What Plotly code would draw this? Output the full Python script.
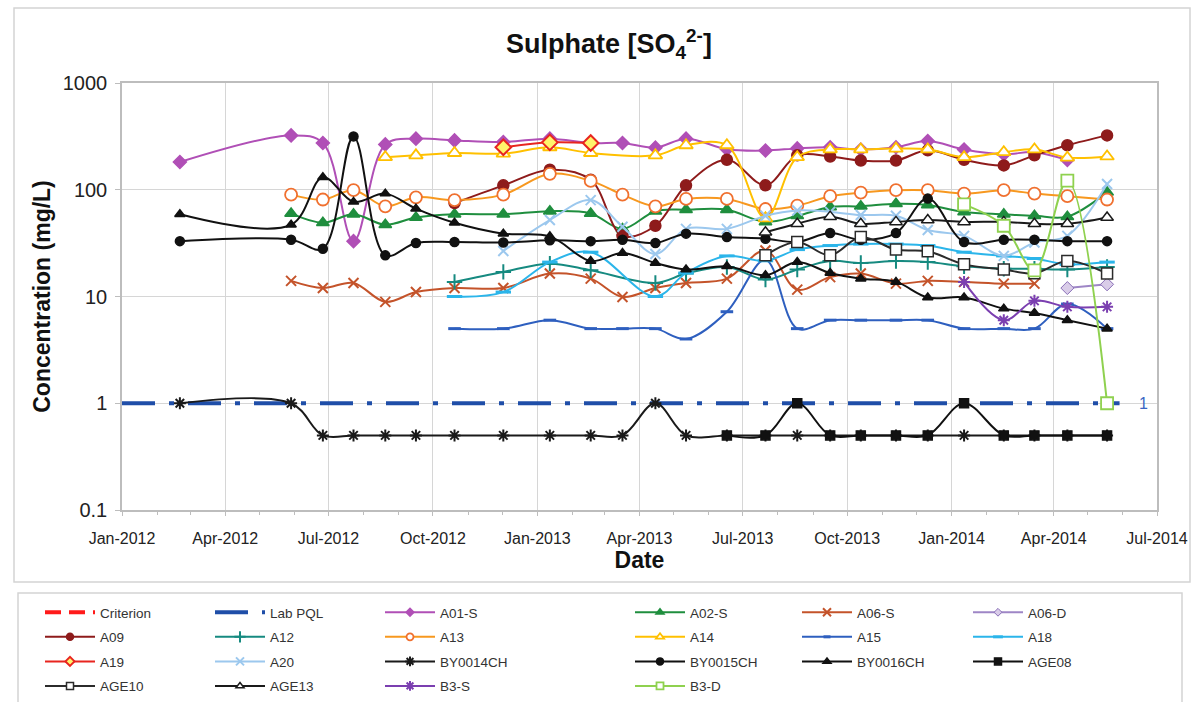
import math
import plotly.graph_objects as go

# ---- sampling dates (shared by all monitoring bores) ----
sample_dates = [
    "2012-02-21", "2012-05-29", "2012-06-26", "2012-07-23", "2012-08-20",
    "2012-09-16", "2012-10-20", "2012-12-02", "2013-01-12", "2013-02-17",
    "2013-03-17", "2013-04-15", "2013-05-12", "2013-06-17", "2013-07-21",
    "2013-08-18", "2013-09-16", "2013-10-13", "2013-11-13", "2013-12-11",
    "2014-01-12", "2014-02-16", "2014-03-15", "2014-04-13", "2014-05-18",
]
N = None

# ---- sulphate concentrations (mg/L), aligned with sample_dates ----
a01_s = [182, 323, 274, 33, 266, 301, 290, 280, 301, 274, 274, 248, 301, 240, 233, 244, 250, 238, 250, 286, 238, 215, 225, 190, N]
a02_s = [N, 60, 49, 59, 47, 55, 59, 59, 63, 60, 43, 63, 65, 65, 50, 57, 69, 70, 74, 72, 62, 59, 57, 56, 95]
a06_s = [N, 14, 12, 13.4, 8.9, 11, 12, 12, 16.4, 14.7, 9.9, 12, 13.4, 14.7, 27, 11.6, 15.2, 16.4, 13.2, 14, 13.7, 13.2, 13.2, N, N]
a06_d = [N] * 23 + [12, 13]
a09 = [N, N, N, N, N, N, 75, 110, 154, 124, 37, 46, 110, 191, 110, 210, 205, 188, 188, 234, 191, 169, 210, 261, 323]
a12 = [N, N, N, N, N, N, 13.7, 17, 20.3, 17.6, N, 13.4, 16.4, 18.9, 14.4, 17.9, 21.5, 20.6, 21.5, 21, 19.2, 18.2, 18.2, 17.9, 18.9]
a13 = [N, 90, 81, 99, 70, 85, 80, 90, 141, 121, 90, 70, 82, 82, 66, 71, 87, 94, 99, 99, 92, 99, 92, 87, 81]
a14 = [N, N, N, N, 202, 210, 221, 218, 250, 221, N, 210, 261, 261, 54, 202, 239, 239, 243, 239, 202, 225, 239, 200, 205]
a15 = [N, N, N, N, N, N, 5, 5, 6, 5, 5, 5, 4, 7.2, 22, 5, 6, 6, 6, 6, 5, 5, 5, 8.5, 5]
a18 = [N, N, N, N, N, N, 10, 11, 21, 26, N, 10, 16.6, 24, 21.6, 27.5, 30, 31, 31, 30, 26, 24, 22.7, 20, 21]
a19 = [N] * 7 + [250, 278, 274] + [N] * 15
a20 = [N] * 7 + [26.7, 52, 80, 45, 25, 43, 43, 57, 64, 62, 58, 57, 42, 37, 24, 32, 37, 113]
by0014ch = [1, 1, 0.5, 0.5, 0.5, 0.5, 0.5, 0.5, 0.5, 0.5, 0.5, 1, 0.5, 0.5, 0.5, 0.5, 0.5, 0.5, 0.5, 0.5, 0.5, 0.5, 0.5, 0.5, 0.5]
by0015ch = [33, 34, 28, 316, 24.3, 31.7, 32.4, 32, 33.6, 33, 34, 31.7, 38.8, 36, 34.8, 32.4, 39.3, 34, 39.3, 82.6, 32.4, 34, 34, 33, 33]
by0016ch = [59, 47, 131, 77, 92, 66.5, 49, 38.8, 36.6, 21.5, 25.5, 20.6, 17.9, 19.2, 15.8, 21, 16.6, 14.7, 13.7, 9.8, 9.8, 7.7, 7.0, 6.0, 5.0]
age08 = [N] * 13 + [0.5, 0.5, 1, 0.5, 0.5, 0.5, 0.5, 1, 0.5, 0.5, 0.5, 0.5]
age10 = [N] * 14 + [24.3, 32.4, 24.3, 36, 27.5, 26.5, 20, 17.9, 16.5, 21.5, 16.4]
age13 = [N] * 14 + [40, 48, 56, 48, 50, 52, 50, 50, 48, 48, 55]
b3_s = [N] * 20 + [13.7, 6.0, 9.1, 8.0, 8.0]
b3_d = [N] * 20 + [73, 46, 17.6, 122, 1.0]

# laboratory practical quantitation limit
pql_value = 1
pql_dates = ["2012-01-01", "2014-05-29"]
pql_label_date = "2014-06-19"

# axis settings
x_range = ["2012-01-01", "2014-07-01"]
y_ticks = [0.1, 1, 10, 100, 1000]
y_tick_text = ["0.1", "1", "10", "100", "1000"]

FONT = "Liberation Sans, Arial, sans-serif"

fig = go.Figure()


def add_series(name, values, color, symbol, size, legend,
               fill=None, line_w=2, mline_w=1.5, mline_color=None, legend_size=None):
    """Data trace plus a legend-only entry drawn with a smaller symbol."""
    def marker(sz):
        return dict(symbol=symbol, size=sz,
                    color=fill if fill is not None else color,
                    line=dict(color=mline_color or color, width=mline_w))
    line = dict(color=color, width=line_w, shape="spline", smoothing=1.0)
    fig.add_trace(go.Scatter(
        x=sample_dates, y=values, name=name, mode="lines+markers",
        connectgaps=True, line=line, marker=marker(size),
        legend=legend, legendgroup=name, showlegend=False,
    ))
    fig.add_trace(go.Scatter(
        x=[None], y=[None], name=name, mode="lines+markers",
        line=line, marker=marker(legend_size or max(5, round(size * 0.6))),
        legend=legend, legendgroup=name, showlegend=True,
    ))


# criterion (legend entry only)
fig.add_trace(go.Scatter(
    x=[None], y=[None], name="Criterion", mode="lines",
    line=dict(color="#FF1A1A", width=4, dash="16px,8px"),
    legend="legend", legendgroup="Criterion",
))
# lab PQL
fig.add_trace(go.Scatter(
    x=pql_dates, y=[pql_value] * len(pql_dates), name="Lab PQL", mode="lines",
    line=dict(color="#1F4EA8", width=4, dash="33px,14px,5px,14px"),
    legend="legend2", legendgroup="Lab PQL",
))

add_series("A01-S", a01_s, "#B04FB6", "diamond", 10, "legend3")
add_series("A02-S", a02_s, "#1F8E3E", "triangle-up", 11, "legend4")
add_series("A06-S", a06_s, "#C4532A", "x-thin-open", 10, "legend5", mline_w=2, legend_size=8)
add_series("A06-D", a06_d, "#9E86C6", "diamond", 10, "legend6", fill="#D9CCE8", mline_color="#8A70B8", mline_w=1)
add_series("A09", a09, "#8E1B1B", "circle", 11, "legend")
add_series("A12", a12, "#168A80", "cross-thin-open", 11, "legend2", mline_w=2, legend_size=8)
add_series("A13", a13, "#F7981F", "circle", 12, "legend3", fill="white", mline_color="#F0702F", mline_w=1.8)
add_series("A14", a14, "#FFC000", "triangle-up", 12, "legend4", fill="white", mline_w=1.8)
add_series("A15", a15, "#2E5FBF", "line-ew-open", 9, "legend5", mline_w=3)
add_series("A18", a18, "#2BB5EA", "line-ew-open", 11, "legend6", mline_w=3)
add_series("A19", a19, "#E8251F", "diamond", 12, "legend", fill="#FFF36B", mline_w=2)
add_series("A20", a20, "#9CC8EE", "x-thin-open", 10, "legend2", mline_w=2, legend_size=8)
add_series("BY0014CH", by0014ch, "#1A1A1A", "asterisk-open", 10, "legend3", mline_w=2, legend_size=8)
add_series("BY0015CH", by0015ch, "#111111", "circle", 9, "legend4", legend_size=7)
add_series("BY0016CH", by0016ch, "#111111", "triangle-up", 9, "legend5", legend_size=7)
add_series("AGE08", age08, "#111111", "square", 9, "legend6", legend_size=7)
add_series("AGE10", age10, "#2B2B2B", "square", 11, "legend", fill="white", mline_w=1.5)
add_series("AGE13", age13, "#1A1A1A", "triangle-up", 11, "legend2", fill="white", mline_w=1.5)
add_series("B3-S", b3_s, "#7B3FB0", "asterisk-open", 10, "legend3", mline_w=2, legend_size=8)
add_series("B3-D", b3_d, "#8FD14F", "square", 12, "legend4", fill="white", mline_w=1.8)

# PQL value label at the right end of the line
fig.add_annotation(
    x=pql_label_date, y=math.log10(pql_value), text=f"{pql_value:g}",
    showarrow=False, font=dict(family=FONT, size=16, color="#3A66C4"),
    xanchor="center", yanchor="middle",
)

# plot-area pixel geometry used to place frames and legend columns
L, R, T, B = 122, 1157, 83, 510
PW, PH = R - L, B - T


def px(xp):
    return (xp - L) / PW


def py(yp):
    return (B - yp) / PH


# outer chart frame and legend box
fig.add_shape(type="rect", xref="paper", yref="paper",
              x0=px(14), x1=px(1190), y0=py(582), y1=py(8),
              line=dict(color="#D4D4D4", width=1.5), layer="below")
fig.add_shape(type="rect", xref="paper", yref="paper",
              x0=px(18), x1=px(1182), y0=py(712), y1=py(593),
              line=dict(color="#D4D4D4", width=1.5), layer="below")

legend_style = dict(
    orientation="v", xanchor="left", yanchor="top",
    y=py(597), bgcolor="rgba(0,0,0,0)", borderwidth=0,
    font=dict(family=FONT, size=13.5, color="#333333"),
    itemwidth=50, traceorder="grouped", tracegroupgap=4,
)
legend_text_x = [100, 270, 440, 690, 857, 1028]
legend_keys = ["legend", "legend2", "legend3", "legend4", "legend5", "legend6"]
legend_layout = {k: dict(legend_style, x=px(tx - 60)) for k, tx in zip(legend_keys, legend_text_x)}

fig.update_layout(
    width=1200, height=702,
    margin=dict(l=L, r=1200 - R, t=T, b=702 - B, autoexpand=False),
    paper_bgcolor="white", plot_bgcolor="white",
    showlegend=True,
    title=dict(
        text="<b>Sulphate [SO<sub>4</sub><sup>2-</sup>]</b>",
        x=609 / 1200, xanchor="center", y=1 - 44 / 702, yanchor="middle",
        font=dict(family=FONT, size=27, color="#111111"),
    ),
    xaxis=dict(
        type="date", range=x_range, tick0="2012-01-01", dtick="M3",
        tickformat="%b-%Y", showgrid=True, gridcolor="#D6D6D6", gridwidth=1,
        showline=True, linecolor="#BDBDBD", linewidth=1.5, mirror=True,
        ticks="outside", ticklen=4, tickcolor="#BDBDBD",
        minor=dict(dtick="M1", ticks="outside", ticklen=3, tickcolor="#BDBDBD", showgrid=False),
        tickfont=dict(family=FONT, size=16, color="#222222"),
        ticklabelstandoff=9,
        title=dict(text="<b>Date</b>", font=dict(family=FONT, size=23, color="#111111"), standoff=4),
        zeroline=False,
    ),
    yaxis=dict(
        type="log", range=[-1, 3], tickvals=y_ticks, ticktext=y_tick_text,
        showgrid=True, gridcolor="#D6D6D6", gridwidth=1,
        showline=True, linecolor="#BDBDBD", linewidth=1.5, mirror=True,
        ticks="outside", ticklen=5, tickcolor="#BDBDBD",
        tickfont=dict(family=FONT, size=20, color="#222222"),
        ticklabelstandoff=4,
        title=dict(text="<b>Concentration (mg/L)</b>", font=dict(family=FONT, size=23, color="#111111"), standoff=6),
        zeroline=False,
    ),
    **legend_layout,
)

fig.write_html("out.html")
